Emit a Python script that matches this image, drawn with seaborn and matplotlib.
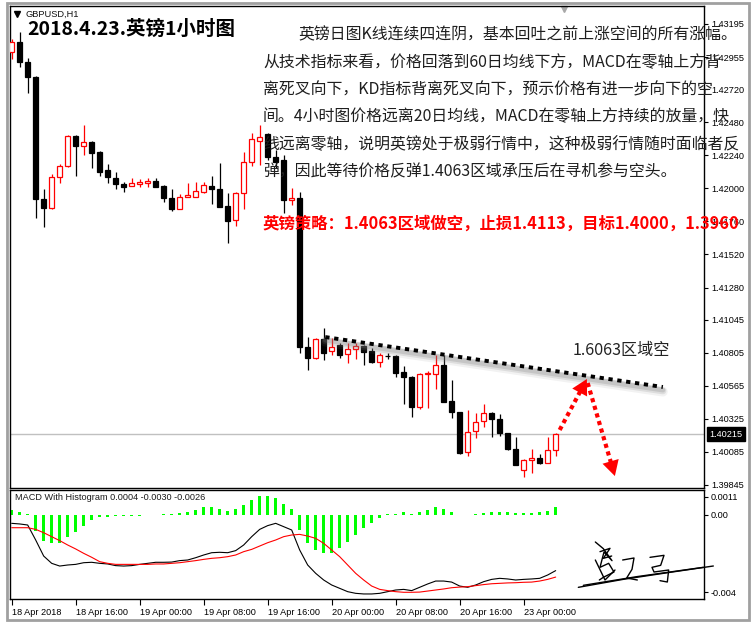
import numpy as np
import pandas as pd
import matplotlib
matplotlib.use('Agg')
import matplotlib.pyplot as plt
import matplotlib.transforms as mtransforms
from matplotlib.patches import Rectangle
import seaborn as sns

sns.set_style('white')
plt.rcParams['font.family'] = ['Liberation Sans', 'Noto Sans CJK SC']

# GBPUSD H1, 18 Apr 08:00 -> 23 Apr 04:00
opens = [1.42992, 1.43064, 1.42919, 1.42810, 1.41923, 1.41858, 1.42083, 1.42163, 1.42381, 1.42308,
         1.42338, 1.42265, 1.42134, 1.42076, 1.42032, 1.42018, 1.42032, 1.42040, 1.42054, 1.42018,
         1.41931, 1.41851, 1.41938, 1.41938, 1.41974, 1.42018, 1.41996, 1.41872, 1.41771, 1.41967,
         1.42192, 1.42345, 1.42396, 1.42228, 1.42207, 1.41916, 1.41931, 1.40848, 1.40768, 1.40906,
         1.40819, 1.40862, 1.40797, 1.40833, 1.40855, 1.40819, 1.40739, 1.40782, 1.40782, 1.40666,
         1.40630, 1.40412, 1.40652, 1.40652, 1.40717, 1.40455, 1.40375, 1.40085, 1.40237, 1.40310,
         1.40368, 1.40325, 1.40223, 1.40107, 1.39954, 1.40027, 1.40041, 1.40005, 1.40099]
highs = [1.43086, 1.43137, 1.42948, 1.42817, 1.41996, 1.42105, 1.42178, 1.42388, 1.42388, 1.42461,
         1.42345, 1.42272, 1.42178, 1.42120, 1.42047, 1.42076, 1.42069, 1.42076, 1.42076, 1.42025,
         1.41996, 1.41960, 1.42040, 1.42047, 1.42047, 1.42090, 1.42185, 1.41967, 1.41974, 1.42265,
         1.42403, 1.42461, 1.42403, 1.42279, 1.42243, 1.42003, 1.41974, 1.40920, 1.40913, 1.40986,
         1.40913, 1.40877, 1.40877, 1.40877, 1.40862, 1.40841, 1.40804, 1.40804, 1.40790, 1.40710,
         1.40637, 1.40659, 1.40673, 1.40790, 1.40790, 1.40608, 1.40375, 1.40390, 1.40368, 1.40434,
         1.40375, 1.40361, 1.40223, 1.40194, 1.40034, 1.40107, 1.40070, 1.40194, 1.40223]
lows = [1.42941, 1.42882, 1.42694, 1.41785, 1.41720, 1.41851, 1.42040, 1.42156, 1.42090, 1.42243,
        1.42149, 1.42090, 1.42040, 1.41996, 1.41974, 1.42018, 1.42010, 1.42010, 1.42010, 1.41901,
        1.41836, 1.41851, 1.41938, 1.41938, 1.41967, 1.41887, 1.41865, 1.41604, 1.41727, 1.41851,
        1.42163, 1.42170, 1.42207, 1.42149, 1.41822, 1.41880, 1.40804, 1.40681, 1.40761, 1.40753,
        1.40790, 1.40768, 1.40732, 1.40761, 1.40717, 1.40732, 1.40702, 1.40761, 1.40630, 1.40434,
        1.40339, 1.40397, 1.40404, 1.40542, 1.40448, 1.40332, 1.40070, 1.40056, 1.40186, 1.40266,
        1.40194, 1.40201, 1.40099, 1.39990, 1.39903, 1.39932, 1.39998, 1.40005, 1.40056]
closes = [1.43064, 1.42919, 1.42810, 1.41923, 1.41858, 1.42083, 1.42163, 1.42381, 1.42308, 1.42338,
          1.42258, 1.42120, 1.42083, 1.42032, 1.42010, 1.42040, 1.42047, 1.42054, 1.42010, 1.41931,
          1.41851, 1.41938, 1.41952, 1.41981, 1.42025, 1.41996, 1.41865, 1.41763, 1.41967, 1.42192,
          1.42359, 1.42374, 1.42228, 1.42192, 1.41916, 1.41931, 1.40848, 1.40768, 1.40906, 1.40804,
          1.40848, 1.40790, 1.40833, 1.40855, 1.40811, 1.40739, 1.40790, 1.40782, 1.40659, 1.40630,
          1.40412, 1.40652, 1.40659, 1.40717, 1.40448, 1.40375, 1.40078, 1.40230, 1.40303, 1.40368,
          1.40325, 1.40223, 1.40107, 1.39990, 1.40027, 1.40041, 1.40005, 1.40099, 1.40215]

# MACD With Histogram
hist = [0.00024, 0.00016, 0.00003, -0.00077, -0.00125, -0.00136, -0.00133, -0.00104, -0.0008, -0.00051,
        -0.00024, -0.00011, -0.00008, -0.00005, -0.00005, -0.00003, -0.00003, -0.00002, -0.00002, 0.00003,
        0.00005, 0.0001, 0.00016, 0.00024, 0.0004, 0.0004, 0.00029, 0.00019, 0.00027, 0.00048,
        0.00072, 0.00091, 0.00091, 0.0008, 0.00053, 0.00029, -0.00072, -0.00136, -0.00168, -0.00184,
        -0.00181, -0.0016, -0.00131, -0.00096, -0.00064, -0.0004, -0.00016, 0.00003, 0.00006, 0.00013,
        0.00005, 0.00014, 0.00024, 0.00037, 0.00027, 0.00014, 0.00002, 0.00002, 0.00003, 0.0001,
        0.00016, 0.00016, 0.00013, 0.0001, 0.0001, 0.0001, 0.00013, 0.00021, 0.00037]
macd_main = [-0.0004, -0.00043, -0.00048, -0.0012, -0.00197, -0.00232, -0.00245, -0.0024, -0.00237, -0.00229,
             -0.00227, -0.00232, -0.00235, -0.00243, -0.00245, -0.00243, -0.00237, -0.00232, -0.00227, -0.00227,
             -0.00226, -0.00219, -0.00216, -0.00205, -0.00192, -0.00181, -0.00179, -0.00181, -0.00171, -0.00144,
             -0.00104, -0.00069, -0.00051, -0.0004, -0.00056, -0.00072, -0.00168, -0.0024, -0.0028, -0.00312,
             -0.00336, -0.00352, -0.00368, -0.00376, -0.00379, -0.00379, -0.00376, -0.00368, -0.0036, -0.00357,
             -0.00363, -0.00347, -0.00331, -0.00317, -0.00317, -0.00322, -0.00341, -0.00347, -0.00336, -0.0032,
             -0.00309, -0.00304, -0.00307, -0.00312, -0.00309, -0.00307, -0.00304, -0.00288, -0.00267]
macd_signal = [-0.00061, -0.00061, -0.00061, -0.00069, -0.00085, -0.00104, -0.00123, -0.00144, -0.00163, -0.00184,
               -0.00203, -0.00224, -0.00232, -0.00237, -0.00237, -0.00237, -0.00237, -0.00237, -0.00235, -0.00235,
               -0.00232, -0.00229, -0.00224, -0.00219, -0.00213, -0.00208, -0.00205, -0.002, -0.00192, -0.00176,
               -0.00165, -0.00149, -0.00133, -0.0012, -0.00104, -0.00096, -0.00093, -0.00101, -0.00112, -0.00136,
               -0.00168, -0.002, -0.0024, -0.0028, -0.00312, -0.00341, -0.00357, -0.00363, -0.00368, -0.00371,
               -0.00371, -0.0037, -0.00365, -0.0036, -0.00355, -0.00349, -0.00346, -0.00344, -0.00339, -0.00334,
               -0.0033, -0.00328, -0.00326, -0.00325, -0.00323, -0.00322, -0.00317, -0.00309, -0.00298]

price_ticks = [1.43195, 1.42955, 1.42720, 1.42480, 1.42240, 1.42000, 1.41760, 1.41520,
               1.41280, 1.41045, 1.40805, 1.40565, 1.40325, 1.40085, 1.39845]
last_price = 1.40215
time_pos = [0, 8, 16, 24, 32, 40, 48, 56, 64]
time_labels = ['18 Apr 2018', '18 Apr 16:00', '19 Apr 00:00', '19 Apr 08:00', '19 Apr 16:00',
               '20 Apr 00:00', '20 Apr 08:00', '20 Apr 16:00', '23 Apr 00:00']

trend_x = [39.2, 81.4]
trend_y = [1.40920, 1.40557]
arrow_up = [(68.5, 1.40245), (71.9, 1.40615)]
arrow_down = [(72.0, 1.40586), (75.4, 1.39910)]

paragraph = ['英镑日图K线连续四连阴，基本回吐之前上涨空间的所有涨幅。',
             '从技术指标来看，价格回落到60日均线下方，MACD在零轴上方背',
             '离死叉向下，KD指标背离死叉向下，预示价格有进一步向下的空',
             '间。4小时图价格远离20日均线，MACD在零轴上方持续的放量，快',
             '线远离零轴，说明英镑处于极弱行情中，这种极弱行情随时面临者反',
             '弹，因此等待价格反弹1.4063区域承压后在寻机参与空头。']
strategy = '英镑策略：1.4063区域做空，止损1.4113，目标1.4000，1.3960'

df = pd.DataFrame({'open': opens, 'high': highs, 'low': lows, 'close': closes})
df['x'] = np.arange(len(df))

W, H = 755, 627
fig = plt.figure(figsize=(W / 100, H / 100), dpi=100)
fig.patch.set_facecolor('white')


def fx(x):
    return x / W


def fy(y):
    return 1 - y / H


ax = fig.add_axes([fx(10), fy(488), fx(704) - fx(10), fy(6) - fy(488)])
axm = fig.add_axes([fx(10), fy(599), fx(704) - fx(10), fy(490) - fy(599)])

# candles
up = df.close > df.open
cols = np.where(up, 'red', 'black')
ax.vlines(df.x, df.low, df.high, colors=cols, lw=0.9, zorder=2)
ax.bar(df.x, (df.close - df.open).abs(), bottom=np.minimum(df.open, df.close), width=0.55,
       color=np.where(up, 'white', 'black'), edgecolor=cols, linewidth=0.9, zorder=3)
ax.axhline(last_price, color='#c0c0c0', lw=1, zorder=1)

ax.set_xlim(-0.21, 86.54)
ax.set_ylim(1.398231, 1.433258)
ax.set_xticks([])
ax.yaxis.tick_right()
ax.set_yticks(price_ticks)
ax.set_yticklabels(['%.5f' % p for p in price_ticks])
ax.tick_params(axis='y', right=True, left=False, direction='out', length=3, width=0.8,
               pad=2, labelsize=6.6, colors='black')
for s in ax.spines.values():
    s.set_color('black')
    s.set_linewidth(1)

bt = mtransforms.blended_transform_factory(ax.transAxes, ax.transData)
ax.text(1.0075, last_price, '%.5f' % last_price, transform=bt, ha='left', va='center',
        color='white', fontsize=6.6,
        bbox=dict(boxstyle='square,pad=0.28', fc='black', ec='black'))

# trend line with soft shadow
for off, a, w in [(0.00034, 0.10, 7), (0.00028, 0.18, 5), (0.00022, 0.25, 3.5)]:
    ax.plot(trend_x, [v - off for v in trend_y], color='#808080', alpha=a, lw=w,
            solid_capstyle='round', zorder=4)
ax.plot(trend_x, trend_y, color='black', lw=2.8, ls=(0, (1.1, 1.2)),
        dash_capstyle='butt', zorder=5)


def dotted_arrow(p0, p1):
    a = ax.transData.transform(p0)
    b = ax.transData.transform(p1)
    d = b - a
    base = b - d / np.hypot(*d) * 14
    xb, yb = ax.transData.inverted().transform(base)
    ax.plot([p0[0], xb], [p0[1], yb], color='red', lw=3, ls=(0, (1, 0.9)),
            dash_capstyle='butt', zorder=6)
    ax.annotate('', xy=p1, xytext=(xb, yb),
                arrowprops=dict(arrowstyle='-|>,head_length=1.0,head_width=0.55',
                                fc='red', ec='red', lw=0, mutation_scale=11,
                                shrinkA=0, shrinkB=0), zorder=6)


dotted_arrow(*arrow_up)
dotted_arrow(*arrow_down)

# MACD panel
axm.bar(df.x, hist, width=0.4, color='#00ff00', linewidth=0, zorder=2)
sns.lineplot(x=df.x, y=macd_main, ax=axm, color='black', lw=0.8, zorder=3)
sns.lineplot(x=df.x, y=macd_signal, ax=axm, color='red', lw=0.8, zorder=3)
axm.set_xlim(-0.21, 86.54)
axm.set_ylim(-0.004032, 0.0012)
axm.yaxis.tick_right()
axm.set_yticks([0.000864, 0.0, -0.003696])
axm.set_yticklabels(['0.0011', '0.00', '-0.004'])
axm.tick_params(axis='y', right=True, left=False, direction='out', length=3, width=0.8,
                pad=2, labelsize=6.6, colors='black')
axm.set_xticks(time_pos)
axm.set_xticklabels(time_labels, ha='left')
axm.tick_params(axis='x', bottom=True, direction='out', length=4, width=0.8,
                pad=2.5, labelsize=6.6, colors='black')
axm.set_xlabel('')
axm.set_ylabel('')
for s in axm.spines.values():
    s.set_color('black')
    s.set_linewidth(1)

# texts
fig.text(fx(26), fy(14), 'GBPUSD,H1', fontsize=6.7, va='center', ha='left', color='#111111')
ax.plot([fx(17)], [fy(14)], marker='v', ms=4, color='black', transform=fig.transFigure,
        clip_on=False)
ax.plot([fx(564)], [fy(9)], marker='v', ms=5, color='#a8a8a8', transform=fig.transFigure,
        clip_on=False)
fig.text(fx(27), fy(29.5), '2018.4.23.英镑1小时图', fontsize=14, fontweight='bold',
         family=['Noto Sans CJK SC'], va='center', ha='left', color='black')

for k, line in enumerate(paragraph):
    x0 = 298 if k == 0 else 263
    fig.text(fx(x0), fy(35 + 27.3 * k), line, fontsize=11.45, family=['Noto Sans CJK SC'],
             va='center', ha='left', color='#1e1e1e')
fig.text(fx(263), fy(224), strategy, fontsize=11.8, fontweight='bold',
         family=['Noto Sans CJK SC'], va='center', ha='left', color='#ff0000')
fig.text(fx(573), fy(350), '1.6063区域空', fontsize=11.6, family=['Noto Sans CJK SC'],
         va='center', ha='left', color='#222222')
fig.text(fx(15), fy(498), 'MACD With Histogram 0.0004 -0.0030 -0.0026', fontsize=6.6,
         va='center', ha='left', color='#1a1a1a')

# handwritten signature (rough strokes)
strokes = [
    [(625, 322), (760, 298), (900, 277), (1030, 258)],
    [(640, 316), (800, 290), (1000, 262)],
    [(676, 186), (700, 206), (726, 242), (702, 216), (690, 262), (716, 250), (732, 276), (700, 292), (688, 300)],
    [(690, 215), (720, 205), (700, 235), (725, 228)],
    [(676, 240), (705, 300), (735, 270)],
    [(758, 240), (792, 234), (786, 268), (770, 294), (802, 300)],
    [(840, 232), (882, 226), (872, 256), (846, 262), (852, 276), (896, 270), (892, 306), (870, 302)],
]
for st in strokes:
    xs = [fx(370 + p[0] / 3) for p in st]
    ys = [fy(480 + p[1] / 3) for p in st]
    axm.plot(xs, ys, color='black', lw=1.0, transform=fig.transFigure, clip_on=False, zorder=5)

fig.patches.append(Rectangle((fx(7), fy(620)), fx(749) - fx(7), fy(3) - fy(620),
                             transform=fig.transFigure, fill=False, ec='#a0a0a0', lw=2))

fig.savefig('out.png', dpi=100, facecolor='white')
